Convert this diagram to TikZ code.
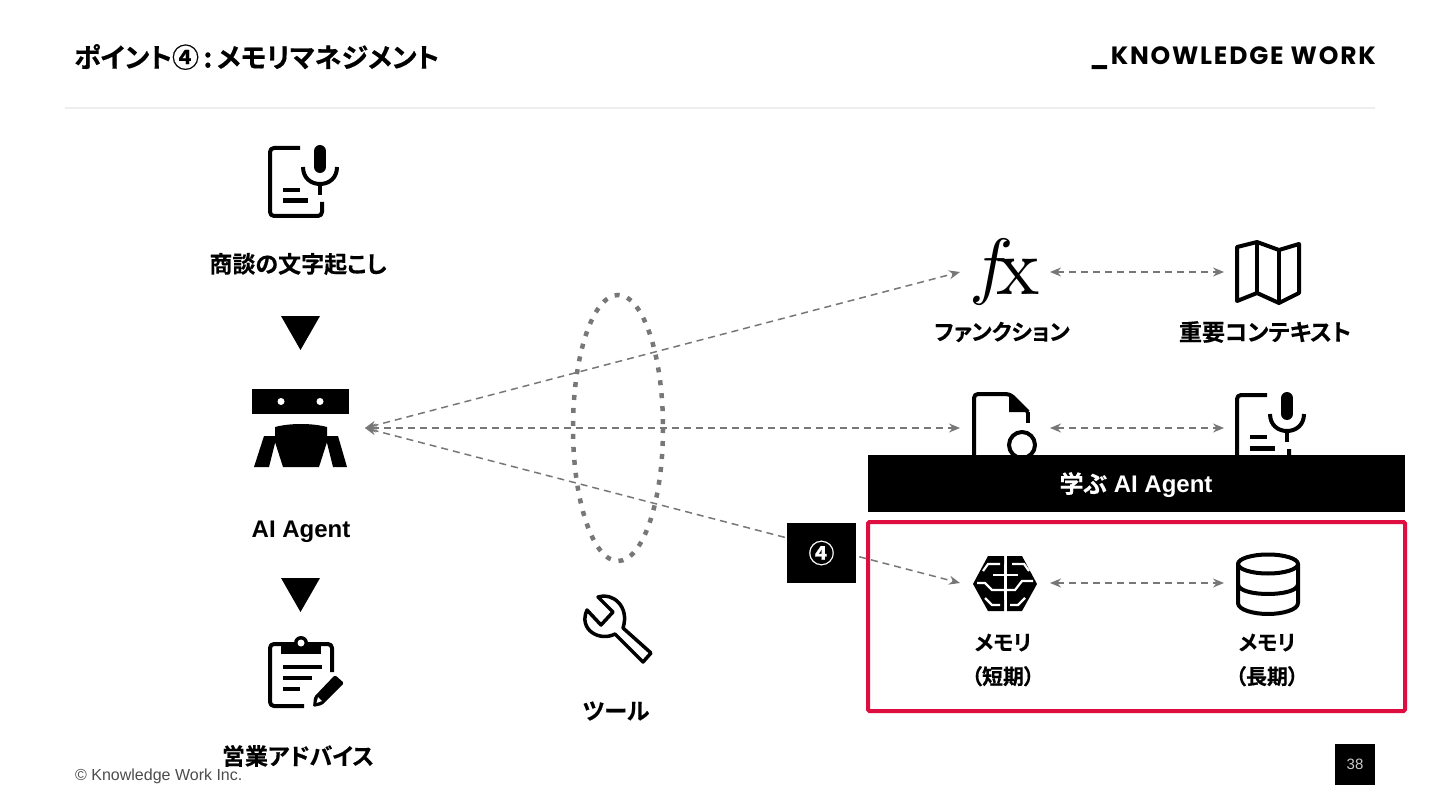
\documentclass[tikz,border=0pt]{standalone}
\usepackage{fontspec}
\usepackage{xcolor}
\usetikzlibrary{arrows.meta}
\setmainfont{Liberation Sans}
\newfontfamily\jpfont{Noto Sans CJK JP}[BoldFont={Noto Sans CJK JP Bold},BoldFeatures={FakeBold=0.4},RawFeature=+palt]
\newfontfamily\logofont{Poppins}[LetterSpace=7.2]
\definecolor{edgegray}{HTML}{777777}
\definecolor{rulegray}{HTML}{EEEEEE}
\definecolor{focusred}{HTML}{DE0F40}
\tikzset{
    edge_arrow/.style={<->, line width=1.5pt, draw=edgegray, dash pattern=on 7pt off 5pt},
    icon_line/.style={draw=black, line width=4pt, line join=round},
    icon_text/.style={font=\jpfont\bfseries\fontsize{23}{26}\selectfont, text=black, align=center, inner sep=0pt},
    memory_text/.style={icon_text, font=\jpfont\bfseries\fontsize{21}{26}\selectfont},
    icon_node/.style={minimum width=90pt, minimum height=60pt, inner sep=0pt, outer sep=0pt},
    black_box/.style={fill=black, text=white, inner sep=0pt, outer sep=0pt},
    flow_mark/.style={fill=black},
    brain_gap/.style={draw=white, line width=2.2pt},
    mic_doc/.pic={
        \draw[icon_line, rounded corners=4pt] (300,148) -- (270,148) -- (270,216) -- (322,216) -- (322,202);
        \draw[icon_line, line width=12pt, line cap=round] (320,151) -- (320,167);
        \draw[icon_line] (303,167) .. controls (303,178) and (311,184) .. (320,184) .. controls (329,184) and (337,178) .. (337,167);
        \draw[icon_line] (320,184) -- (320,195);
        \draw[icon_line] (283,190) -- (300,190);
        \draw[icon_line, line width=5pt] (283,201) -- (308,201);
    }
}
\begin{document}
\begin{tikzpicture}[x=1pt, y=-1pt, >={Stealth[length=11pt,width=9pt]}]
\useasboundingbox (0,0) rectangle (1440,810);

\node[anchor=west, inner sep=0pt, font=\jpfont\bfseries\fontsize{27}{30}\selectfont] (title) at (74,57) {ポイント④\,:\,メモリマネジメント};
\node[anchor=east, inner sep=0pt, font=\logofont\fontsize{25}{28}\selectfont\bfseries] (logo) at (1376,58) {\_KNOWLEDGE WORK};
\draw[rulegray, line width=2pt] (65,108) -- (1375,108);

\pic at (0,0) {mic_doc};
\node[icon_text] (transcript) at (298,264) {商談の文字起こし};
\fill[flow_mark] (281,316) -- (320,316) -- (300.5,350) -- cycle;

\node[icon_node, minimum width=128pt] (robot) at (301,428) {};
\fill (252,389) rectangle (349,414);
\fill[white] (281,401.5) circle[radius=3.5] (320,401.5) circle[radius=3.5];
\fill (275,427) .. controls (290,423) and (312,423) .. (327,427) -- (327,442) -- (319,467) -- (283,467) -- (275,442) -- cycle;
\fill (264,436) -- (275,436) -- (275,443) -- (269,467) -- (254,467) -- cycle;
\fill (338,436) -- (327,436) -- (327,443) -- (333,467) -- (347,467) -- cycle;
\node[icon_text, font=\bfseries\fontsize{24}{28}\selectfont] (agent) at (301,532) {AI Agent};
\fill[flow_mark] (281,578) -- (320,578) -- (300.5,612) -- cycle;

\draw[icon_line, rounded corners=4pt] (304,706) -- (270,706) -- (270,644) -- (332,644) -- (332,672);
\fill (281,644) rectangle (321,654);
\fill (301,643) circle[radius=7];
\fill[white] (301,643) circle[radius=3.5];
\draw[icon_line] (283,667) -- (322,667);
\draw[icon_line] (283,678) -- (312,678);
\draw[icon_line] (283,689) -- (300,689);
\fill[rounded corners=1.5pt] (335,675) -- (344,683) -- (322,705) -- (313,707) -- (314,697) -- cycle;
\fill[white] (318,697) -- (322,701) -- (316.5,703) -- cycle;
\node[icon_text] (advice) at (298,756) {営業アドバイス};

\draw[edgegray, line width=4.5pt, dash pattern=on 5pt off 8pt] (618,428) ellipse[x radius=45, y radius=133];
\draw[draw=black, line width=3.5pt, line join=round] (598,597) .. controls (612,592) and (630,606) .. (623,628) -- (651,653) -- (643,662) -- (615,634) .. controls (600,642) and (578,630) .. (587,610) -- (601,625) -- (613,612) -- cycle;
\node[icon_text] (tool) at (616,711) {ツール};

\node[icon_node] (function) at (1005,272) {};
\node[inner sep=0pt, scale=7.4] (function_f) at (992,272) {$f$};
\node[inner sep=0pt, scale=8.2, font=\fontfamily{lmr}\selectfont] (function_x) at (1018,276.5) {x};
\node[icon_text, font=\jpfont\bfseries\fontsize{22}{26}\selectfont] (function_text) at (1002,332) {ファンクション};

\node[icon_node, minimum width=88pt] (map) at (1268,272) {};
\draw[icon_line] (1237,247) -- (1257,242) -- (1279,250) -- (1299,244) -- (1299,293) -- (1279,303) -- (1257,293) -- (1237,301) -- cycle;
\draw[icon_line] (1257,242) -- (1257,293) (1279,250) -- (1279,303);
\node[icon_text] (map_text) at (1265,332) {重要コンテキスト};

\node[icon_node] (file) at (1005,428) {};
\draw[icon_line, rounded corners=4pt] (974,470) -- (974,394) -- (1010,394) -- (1028,412);
\draw[icon_line] (1028,412) -- (1028,423);
\fill (1009,394) -- (1029,412) -- (1009,412) -- cycle;
\draw[icon_line] (1022,445) circle[radius=13];

\node[icon_node, minimum width=88pt] (mic) at (1268,428) {};
\pic at (967,247) {mic_doc};

\node[icon_node] (brain) at (1005,583) {};
\fill (1004,556) -- (988,556) -- (973,584) -- (988,611) -- (1004,611) -- cycle;
\fill (1007,556) -- (1022,556) -- (1037,584) -- (1022,611) -- (1007,611) -- cycle;
\draw[brain_gap] (983,571) -- (988,564) -- (1000,564);
\draw[brain_gap] (1029,571) -- (1024,564) -- (1012,564);
\draw[brain_gap] (993,575) -- (1018,575);
\draw[brain_gap] (1005.5,564) -- (1005.5,600);
\draw[brain_gap] (977,583) -- (985,583) -- (992,590) -- (1004,590);
\draw[brain_gap] (1033,581) -- (1022,581) -- (1015,590) -- (1006,590);
\draw[brain_gap] (985,598) -- (992,605) -- (1000,605);
\draw[brain_gap] (1025,598) -- (1018,605) -- (1010,605);
\node[memory_text] (brain_text) at (1003,660) {メモリ\\[8pt]（短期）};

\node[icon_node, minimum width=88pt] (db) at (1268,583) {};
\draw[icon_line] (1268,564) ellipse[x radius=30, y radius=9.5];
\draw[icon_line] (1238,564) -- (1238,603) .. controls (1238,610) and (1254,614) .. (1268,614) .. controls (1282,614) and (1298,610) .. (1298,603) -- (1298,564);
\draw[icon_line] (1238,584) .. controls (1238,591) and (1254,594) .. (1268,594) .. controls (1282,594) and (1298,591) .. (1298,584);
\node[memory_text] (db_text) at (1267,660) {メモリ\\[8pt]（長期）};

\foreach \i/\j in {function/map, file/mic, brain/db} {
    \draw[edge_arrow] (\i.east) -- (\j.west);
}
\foreach \i in {function, file, brain} {
    \draw[edge_arrow] (robot.east) -- (\i.west);
}

\node[black_box, minimum width=537pt, minimum height=57pt] (banner) at (1136.5,483.5) {};
\node[text=white, inner sep=0pt, font=\bfseries\fontsize{24}{28}\selectfont] (banner_text) at (1136,485) {{\jpfont 学ぶ} AI Agent};
\node[black_box, minimum width=69pt, minimum height=60pt, font=\jpfont\bfseries\fontsize{26}{30}\selectfont] (point) at (821.5,553) {④};
\draw[focusred, line width=4pt, rounded corners=1.5pt] (868,522) rectangle (1405,711);

\node[anchor=west, inner sep=0pt, text=black!70, font=\fontsize{16}{18}\selectfont] (copyright) at (75,776) {© Knowledge Work Inc.};
\node[black_box, minimum width=40pt, minimum height=41pt, text=black!20, font=\fontsize{15}{18}\selectfont] (page) at (1355,764.5) {38};
\end{tikzpicture}
\end{document}
